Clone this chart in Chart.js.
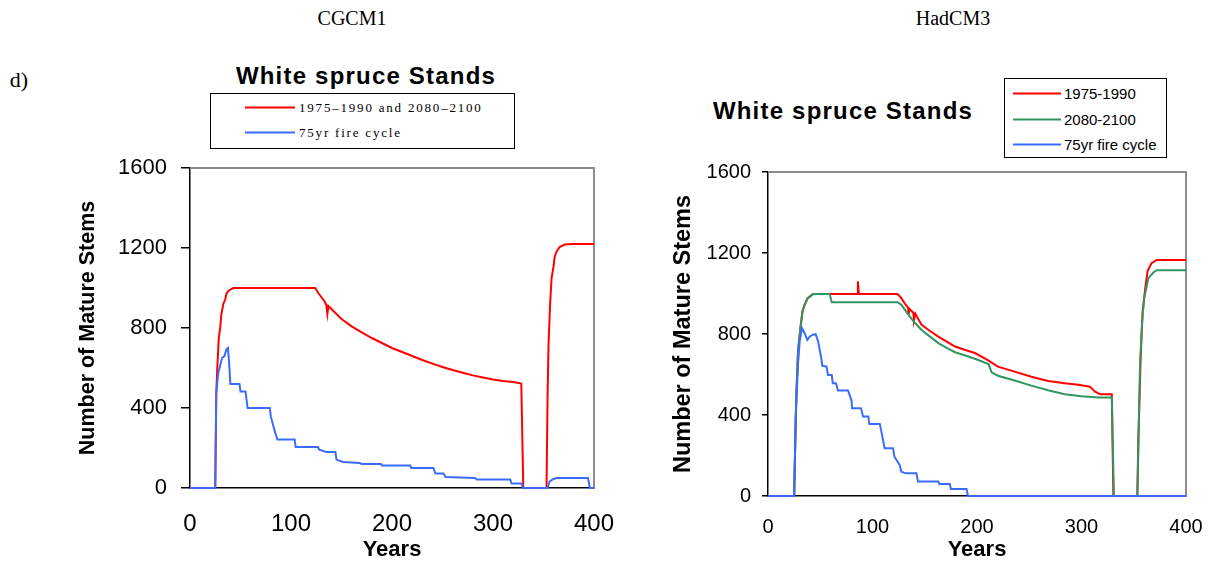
<!DOCTYPE html>
<html>
<head>
<meta charset="utf-8">
<title>White spruce Stands</title>
<script src="https://cdn.jsdelivr.net/npm/chart.js@4.4.1/dist/chart.umd.min.js"></script>
<style>
  html, body { margin: 0; padding: 0; background: #fff; }
  body { position: relative; width: 1210px; height: 561px; overflow: hidden;
         font-family: "Liberation Sans", Arial, sans-serif; color: #000; }
  .txt { position: absolute; white-space: nowrap; line-height: 1; transform: translate(-50%, -50%); }
  .serif { font-family: "Liberation Serif", "Times New Roman", serif; }
  .title { font-weight: bold; font-size: 24px; letter-spacing: 1.2px; }
  canvas { position: absolute; }
  .legend { position: absolute; border: 1px solid #000; box-sizing: border-box; background: #fff; }
  .legend .row { position: absolute; left: 0; display: flex; align-items: center;
                 white-space: nowrap; line-height: 1; transform: translateY(-50%); }
  .legend .swatch { display: inline-block; height: 2px; }
</style>
</head>
<body>
<canvas id="chart-cgcm" width="620" height="411" style="left:0;top:150px"></canvas>
<canvas id="chart-had" width="570" height="411" style="left:640px;top:150px"></canvas>

<div class="txt serif" style="left:19px;top:80px;font-size:22px">d)</div>
<div class="txt serif" style="left:352px;top:18px;font-size:20px">CGCM1</div>
<div class="txt serif" style="left:953px;top:18px;font-size:20px">HadCM3</div>
<div class="txt title" style="left:366px;top:76px">White spruce Stands</div>
<div class="txt title" style="left:843px;top:111px">White spruce Stands</div>
<div id="legend-cgcm" class="legend" style="left:210px;top:93px;width:305px;height:56px"></div>
<div id="legend-had" class="legend" style="left:1004px;top:78px;width:163px;height:80px"></div>

<script>
// axis ticks
const yearTicks = [0, 100, 200, 300, 400];
const stemTicks = [0, 400, 800, 1200, 1600];

// CGCM1 panel
const cgcmLabels = ['1975\u20131990 and 2080\u20132100', '75yr fire cycle'];

const cgcmRedYears = [0, 25, 26, 27, 28.5, 30, 31, 33, 35, 36, 38, 41, 43, 124, 127, 130, 133, 135, 136, 137,
  140, 145, 150, 160, 170, 180, 190, 200, 210, 220, 230, 240, 250, 260, 270, 280, 290, 300, 310, 320,
  328, 330, 353, 354, 355, 356.6, 358, 360, 361, 363, 366, 371, 378, 400];
const cgcmRedStems = [0, 0, 470, 600, 750, 805, 867, 920, 945, 970, 985, 995, 1000, 1000, 975, 955, 935, 915, 870, 910,
  895, 870, 845, 808, 778, 750, 725, 700, 680, 660, 640, 622, 605, 590, 576, 563, 552, 542, 535, 530,
  522, 0, 0, 450, 720, 925, 1050, 1110, 1155, 1183, 1205, 1217, 1220, 1220];

const cgcmBlueYears = [0, 25, 26, 28, 31.7, 34, 36, 37.6, 38.6, 40, 49, 50, 55, 57, 79, 80, 84, 86.5, 103.6, 104.6,
  126.7, 128, 135, 144, 145, 151.5, 168, 170, 189, 190, 218, 219, 241, 243, 251, 253, 282, 284, 317, 318.5,
  328, 330, 354, 356, 360, 363, 394, 396, 400];
const cgcmBlueStems = [0, 0, 475, 575, 650, 658, 692, 700, 633, 520, 520, 483, 483, 400, 400, 358, 283, 242, 242, 205,
  205, 192, 180, 180, 142, 130, 125, 120, 120, 112, 112, 100, 100, 72, 72, 55, 50, 42, 42, 22,
  22, 0, 0, 33, 45, 50, 50, 0, 0];

// HadCM3 panel
const hadLabels = ['1975-1990', '2080-2100', '75yr fire cycle'];

const hadRedYears = [0, 25, 27, 28.7, 31, 33, 35, 38, 43, 85.5, 86, 87, 124, 127.6, 131, 134, 134.6, 135.2, 139, 139.7,
  141, 147, 155, 163, 171, 179, 188, 198, 210, 220, 236, 252, 268, 284, 297, 308, 313, 318, 329, 330.5,
  353.4, 354.4, 356.6, 358.5, 361, 363.3, 367, 372, 400];
const hadRedStems = [0, 0, 483, 713, 829, 911, 944, 977, 997, 997, 1060, 997, 997, 977, 950, 930, 895, 925, 905, 870,
  900, 845, 815, 787, 762, 738, 722, 706, 672, 639, 614, 589, 568, 557, 549, 540, 515, 502, 502, 0,
  0, 285, 680, 911, 1026, 1112, 1150, 1166, 1166];

const hadGreenYears = [0, 25, 27, 28.7, 31, 33, 35, 38, 43, 59, 61, 124, 127.6, 134, 140, 147, 155, 163, 171, 179,
  188, 198, 211, 214, 220, 236, 252, 268, 284, 300, 316, 329, 331, 353.5, 356, 358, 360, 364, 369, 372, 400];
const hadGreenStems = [0, 0, 483, 713, 829, 911, 944, 977, 997, 997, 957, 957, 944, 898, 858, 820, 787, 755, 732, 710,
  695, 678, 652, 611, 594, 570, 545, 522, 502, 493, 486, 486, 0, 0, 647, 862, 977, 1076, 1105, 1115, 1115];

const hadBlueYears = [0, 25, 26.5, 28.7, 30.3, 32.5, 35, 37.6, 40, 43, 45.6, 48, 51, 52, 56, 57.4, 61, 62, 65, 67,
  76.6, 80, 80.4, 89, 91, 96, 97, 107, 108.5, 111.6, 119.6, 121, 126, 127.6, 132, 142, 143.5, 163, 164, 174,
  175, 190, 191.4, 400];
const hadBlueStems = [0, 0, 384, 647, 763, 829, 804, 771, 788, 796, 799, 763, 680, 643, 639, 598, 598, 557, 557, 521,
  521, 471, 433, 433, 392, 392, 356, 356, 318, 236, 236, 194, 153, 120, 112, 112, 71, 71, 59, 59,
  35, 35, 0, 0];

const RED = '#ff0000';
const GREEN = '#2f9660';
const BLUE = '#3a6bff';
const FONT = '"Liberation Sans", Arial, sans-serif';

function toPoints(xs, ys) {
  return xs.map((x, i) => ({ x: x, y: ys[i] }));
}

function series(label, xs, ys, color, order) {
  return {
    label: label,
    data: toPoints(xs, ys),
    borderColor: color,
    backgroundColor: color,
    borderWidth: 2,
    pointRadius: 0,
    tension: 0,
    fill: false,
    clip: 3,
    order: order,
  };
}

// gray frame on the top and right of the plot area
const plotFrame = {
  id: 'plotFrame',
  beforeDatasetsDraw(chart) {
    const { ctx, chartArea: a } = chart;
    ctx.save();
    ctx.strokeStyle = '#8c8c8c';
    ctx.lineWidth = 2;
    ctx.beginPath();
    ctx.moveTo(a.left, a.top);
    ctx.lineTo(a.right, a.top);
    ctx.lineTo(a.right, a.bottom);
    ctx.stroke();
    ctx.restore();
  },
};

// tick paddings are kept at 0 on x (they would widen the layout margins);
// label distance is set through the font line height instead
function makeChart(canvasId, datasets, L) {
  return new Chart(document.getElementById(canvasId), {
    type: 'line',
    data: { datasets: datasets },
    options: {
      responsive: false,
      animation: false,
      devicePixelRatio: 1,
      layout: { padding: { left: L.padLeft, right: L.padRight, top: L.padTop, bottom: 0 } },
      plugins: { legend: { display: false }, tooltip: { enabled: false } },
      scales: {
        x: {
          type: 'linear',
          min: 0,
          max: 400,
          afterBuildTicks: s => { s.ticks = yearTicks.map(v => ({ value: v })); },
          afterFit: s => { s.height = L.xHeight; },
          grid: { display: false, drawTicks: false },
          border: { display: true, color: '#000', width: 1.5 },
          ticks: {
            color: '#000',
            padding: 0,
            maxRotation: 0,
            callback: v => String(v),
            font: { family: FONT, size: L.xTickSize, lineHeight: L.xTickLine },
          },
          title: {
            display: true,
            text: 'Years',
            color: '#000',
            padding: 0,
            font: { family: FONT, size: 22, weight: 'bold', lineHeight: 1 },
          },
        },
        y: {
          type: 'linear',
          min: 0,
          max: 1600,
          afterBuildTicks: s => { s.ticks = stemTicks.map(v => ({ value: v })); },
          afterFit: s => { s.width = L.yWidth; },
          grid: { drawOnChartArea: false, tickLength: L.yTickLen, color: '#000', lineWidth: 1.5 },
          border: { display: true, color: '#000', width: 1.5 },
          ticks: {
            color: '#000',
            padding: L.yTickPad,
            callback: v => String(v),
            font: { family: FONT, size: L.yTickSize, lineHeight: 0.3 },
          },
          title: {
            display: true,
            text: 'Number of Mature Stems',
            color: '#000',
            padding: 0,
            font: { family: FONT, size: L.yTitleSize, weight: 'bold' },
          },
        },
      },
    },
    plugins: [plotFrame],
  });
}

function buildLegend(boxId, labels, colors, rows, style) {
  const box = document.getElementById(boxId);
  labels.forEach((text, i) => {
    const row = document.createElement('div');
    row.className = 'row';
    row.style.top = rows[i] + 'px';
    row.style.left = style.lineLeft + 'px';
    const sw = document.createElement('span');
    sw.className = 'swatch';
    sw.style.width = style.lineWidth + 'px';
    sw.style.background = colors[i];
    sw.style.marginRight = style.gap + 'px';
    const lab = document.createElement('span');
    lab.textContent = text;
    lab.style.fontFamily = style.family;
    lab.style.fontSize = style.size + 'px';
    lab.style.letterSpacing = style.spacing + 'px';
    row.appendChild(sw);
    row.appendChild(lab);
    box.appendChild(row);
  });
}

makeChart('chart-cgcm', [
  series(cgcmLabels[1], cgcmBlueYears, cgcmBlueStems, BLUE, 0),
  series(cgcmLabels[0], cgcmRedYears, cgcmRedStems, RED, 1),
], {
  padLeft: 75, padRight: 26, padTop: 18, yWidth: 115, xHeight: 73,
  xTickSize: 24, xTickLine: 3, yTickPad: 14, yTickLen: 9, yTickSize: 22, yTitleSize: 21.5,
});

makeChart('chart-had', [
  series(hadLabels[2], hadBlueYears, hadBlueStems, BLUE, 0),
  series(hadLabels[1], hadGreenYears, hadGreenStems, GREEN, 1),
  series(hadLabels[0], hadRedYears, hadRedStems, RED, 2),
], {
  padLeft: 29, padRight: 24, padTop: 22, yWidth: 99, xHeight: 65,
  xTickSize: 20, xTickLine: 3.15, yTickPad: 11, yTickLen: 6, yTickSize: 20, yTitleSize: 23.5,
});

buildLegend('legend-cgcm', cgcmLabels, [RED, BLUE], [13, 38],
  { lineLeft: 34, lineWidth: 50, gap: 4, family: '"Liberation Serif", serif', size: 13, spacing: 1.8 });
buildLegend('legend-had', hadLabels, [RED, GREEN, BLUE], [14, 40, 65],
  { lineLeft: 8, lineWidth: 48, gap: 3, family: FONT, size: 15, spacing: 0 });
</script>
</body>
</html>
